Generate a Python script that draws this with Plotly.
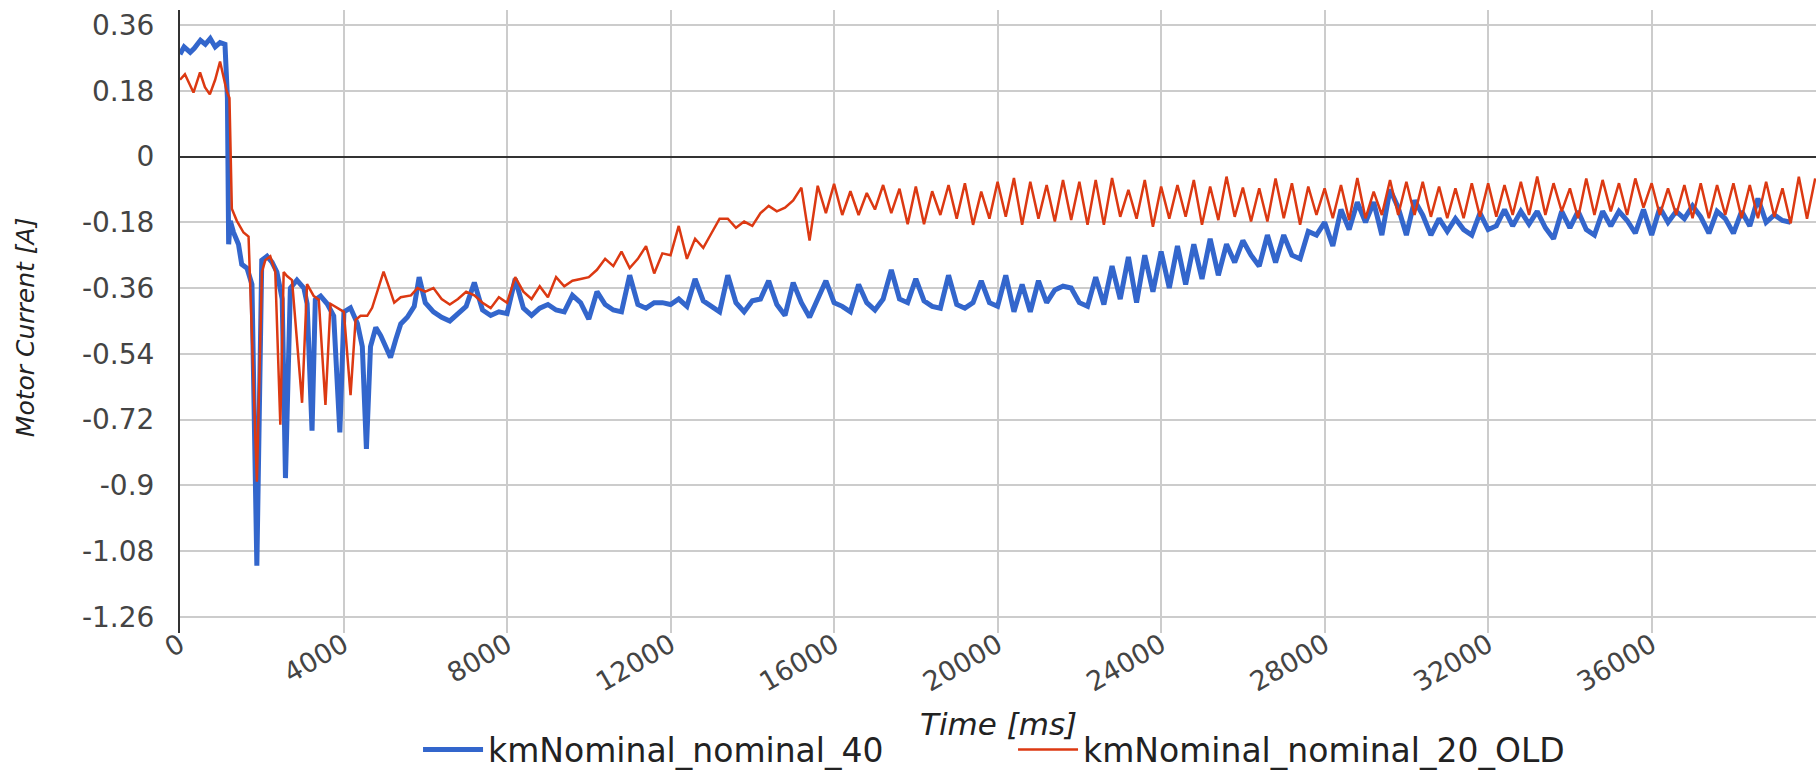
import plotly.graph_objects as go

# ---------------- data ----------------
SERIES_BLUE = "kmNominal_nominal_40"
SERIES_RED = "kmNominal_nominal_20_OLD"

# early part, irregular sampling (ms, A)
BLUE_EARLY_T = [0, 100, 250, 350, 500, 620, 740, 860, 980, 1100, 1160, 1190, 1230, 1310,
                1430, 1510, 1640, 1760, 1880, 2000, 2130, 2250, 2370, 2500, 2580, 2700,
                2860, 3030, 3110, 3230, 3310, 3440, 3600, 3760, 3910, 4010, 4170, 4340,
                4460, 4560, 4660, 4790, 4910, 5030, 5150, 5280, 5400, 5560, 5730, 5850]
BLUE_EARLY_I = [0.28, 0.30, 0.285, 0.296, 0.318, 0.307, 0.323, 0.30, 0.312, 0.307, 0.16, -0.24,
                -0.176, -0.208, -0.24, -0.295, -0.306, -0.35, -1.12, -0.284, -0.273, -0.289,
                -0.316, -0.39, -0.88, -0.36, -0.338, -0.36, -0.403, -0.75, -0.392, -0.382,
                -0.403, -0.436, -0.755, -0.425, -0.414, -0.457, -0.52, -0.80, -0.52, -0.468,
                -0.49, -0.52, -0.55, -0.50, -0.458, -0.44, -0.41, -0.33]

RED_EARLY_T = [0, 120, 330, 490, 610, 730, 860, 980, 1140, 1210, 1268, 1390, 1554, 1677,
               1881, 2004, 2086, 2209, 2331, 2454, 2536, 2618, 2740, 2986, 3108, 3272, 3395,
               3558, 3681, 3845, 4008, 4172, 4295, 4417, 4581, 4700, 4800, 4980, 5120, 5240,
               5400, 5650, 5810]
RED_EARLY_I = [0.21, 0.225, 0.175, 0.23, 0.19, 0.17, 0.21, 0.26, 0.18, 0.16, -0.143, -0.176,
               -0.208, -0.219, -0.89, -0.316, -0.284, -0.273, -0.316, -0.734, -0.316, -0.327,
               -0.338, -0.674, -0.349, -0.382, -0.392, -0.68, -0.403, -0.414, -0.425, -0.653,
               -0.447, -0.436, -0.436, -0.414, -0.38, -0.315, -0.36, -0.40, -0.385, -0.38,
               -0.36]

# later part, logged every 200 ms starting at 6000 ms
LATE_START_MS = 6000
LATE_STEP_MS = 200

BLUE_LATE_I = [
    -0.40, -0.425, -0.44, -0.45, -0.43, -0.41, -0.345, -0.42, -0.435, -0.425,    # 6000
    -0.43, -0.335, -0.415, -0.435, -0.415, -0.405, -0.42, -0.425, -0.38, -0.40,  # 8000
    -0.445, -0.37, -0.405, -0.42, -0.425, -0.325, -0.405, -0.415, -0.40, -0.40,  # 10000
    -0.405, -0.39, -0.41, -0.335, -0.395, -0.41, -0.425, -0.325, -0.40, -0.425,  # 12000
    -0.395, -0.39, -0.34, -0.405, -0.435, -0.345, -0.40, -0.44, -0.39, -0.34,    # 14000
    -0.40, -0.41, -0.425, -0.35, -0.40, -0.42, -0.39, -0.31, -0.39, -0.40,       # 16000
    -0.335, -0.395, -0.41, -0.415, -0.325, -0.405, -0.415, -0.40, -0.34, -0.40,  # 18000
    -0.41, -0.325, -0.425, -0.35, -0.425, -0.34, -0.40, -0.365, -0.355, -0.36,   # 20000
    -0.40, -0.41, -0.33, -0.405, -0.30, -0.39, -0.275, -0.40, -0.27, -0.37,      # 22000
    -0.26, -0.36, -0.245, -0.35, -0.24, -0.335, -0.225, -0.325, -0.24, -0.29,    # 24000
    -0.23, -0.27, -0.30, -0.215, -0.29, -0.215, -0.27, -0.28, -0.205, -0.215,    # 26000
    -0.18, -0.245, -0.145, -0.20, -0.125, -0.18, -0.125, -0.215, -0.09, -0.14,   # 28000
    -0.215, -0.12, -0.16, -0.215, -0.17, -0.205, -0.17, -0.20, -0.215, -0.155,   # 30000
    -0.20, -0.19, -0.145, -0.19, -0.15, -0.185, -0.15, -0.195, -0.225, -0.15,    # 32000
    -0.195, -0.15, -0.20, -0.215, -0.15, -0.19, -0.15, -0.175, -0.21, -0.145,    # 34000
    -0.215, -0.14, -0.18, -0.15, -0.17, -0.135, -0.165, -0.21, -0.15, -0.17,     # 36000
    -0.21, -0.15, -0.19, -0.115, -0.18, -0.16, -0.175, -0.18,                    # 38000
]

RED_LATE_I = [
    -0.37, -0.36, -0.39, -0.405, -0.39, -0.37, -0.38, -0.40, -0.415, -0.385,     # 6000
    -0.40, -0.33, -0.37, -0.39, -0.355, -0.385, -0.33, -0.355, -0.34, -0.335,    # 8000
    -0.33, -0.31, -0.28, -0.30, -0.26, -0.305, -0.28, -0.245, -0.32, -0.265,     # 10000
    -0.27, -0.19, -0.28, -0.225, -0.25, -0.21, -0.17, -0.17, -0.195, -0.178,     # 12000
    -0.19, -0.155, -0.135, -0.15, -0.14, -0.12, -0.085, -0.23, -0.08, -0.155,    # 14000
    -0.075, -0.16, -0.095, -0.16, -0.10, -0.145, -0.078, -0.155, -0.088, -0.185, # 16000
    -0.082, -0.185, -0.095, -0.16, -0.078, -0.17, -0.073, -0.187, -0.096, -0.17, # 18000
    -0.069, -0.165, -0.059, -0.187, -0.069, -0.17, -0.078, -0.178, -0.064, -0.174,  # 20000
    -0.069, -0.187, -0.064, -0.187, -0.059, -0.165, -0.091, -0.17, -0.064, -0.192,  # 22000
    -0.082, -0.17, -0.078, -0.165, -0.064, -0.187, -0.082, -0.174, -0.055, -0.165,  # 24000
    -0.085, -0.178, -0.087, -0.178, -0.06, -0.169, -0.073, -0.187, -0.082, -0.16,   # 26000
    -0.087, -0.169, -0.078, -0.174, -0.059, -0.169, -0.096, -0.16, -0.064, -0.16,   # 28000
    -0.069, -0.16, -0.069, -0.165, -0.082, -0.169, -0.087, -0.169, -0.073, -0.165,  # 30000
    -0.073, -0.165, -0.078, -0.16, -0.069, -0.16, -0.055, -0.16, -0.073, -0.15,     # 32000
    -0.087, -0.169, -0.06, -0.16, -0.064, -0.15, -0.073, -0.16, -0.06, -0.14,       # 34000
    -0.073, -0.16, -0.087, -0.16, -0.078, -0.169, -0.073, -0.169, -0.078, -0.16,    # 36000
    -0.073, -0.169, -0.078, -0.169, -0.069, -0.165, -0.087, -0.183, -0.055, -0.17,  # 38000
    -0.06,                                                                          # 40000
]

X_TICKS = [0, 4000, 8000, 12000, 16000, 20000, 24000, 28000, 32000, 36000]
X_TICK_LABELS = ["0", "4000", "8000", "12000", "16000", "20000", "24000", "28000", "32000", "36000"]
Y_TICKS = [0.36, 0.18, 0, -0.18, -0.36, -0.54, -0.72, -0.9, -1.08, -1.26]
Y_TICK_LABELS = ["0.36", "0.18", "0", "-0.18", "-0.36", "-0.54", "-0.72", "-0.9", "-1.08", "-1.26"]

X_TITLE = "Time [ms]"
Y_TITLE = "Motor Current [A]"

# ---------------- build series ----------------
blue_t = BLUE_EARLY_T + [LATE_START_MS + LATE_STEP_MS * k for k in range(len(BLUE_LATE_I))]
blue_i = BLUE_EARLY_I + BLUE_LATE_I
red_t = RED_EARLY_T + [LATE_START_MS + LATE_STEP_MS * k for k in range(len(RED_LATE_I))]
red_i = RED_EARLY_I + RED_LATE_I

FONT = "DejaVu Sans, Arial, sans-serif"

fig = go.Figure()
fig.add_trace(go.Scatter(x=blue_t, y=blue_i, mode="lines", name=SERIES_BLUE,
                         line=dict(color="#3366CC", width=5)))
fig.add_trace(go.Scatter(x=red_t, y=red_i, mode="lines", name=SERIES_RED,
                         line=dict(color="#DC3912", width=2.5)))

fig.update_layout(
    width=1816, height=776,
    margin=dict(l=180, r=0, t=10, b=143, pad=0),
    paper_bgcolor="white", plot_bgcolor="white",
    font=dict(family=FONT, color="#222222"),
    showlegend=True,
    legend=dict(orientation="h", xref="paper", x=0.1455, xanchor="left",
                yref="container", y=0.034, yanchor="middle",
                font=dict(family=FONT, size=33, color="#222222"),
                traceorder="normal", itemwidth=60,
                entrywidth=520, entrywidthmode="pixels"),
    xaxis=dict(range=[0, 40020], tickmode="array", tickvals=X_TICKS, ticktext=X_TICK_LABELS,
               tickangle=-30, tickfont=dict(family=FONT, size=27, color="#444444"),
               showgrid=True, gridcolor="#cccccc", gridwidth=1.5, zeroline=False,
               showline=False, ticks="", ticklabelstandoff=-10),
    yaxis=dict(range=[-1.304, 0.401], tickmode="array", tickvals=Y_TICKS, ticktext=Y_TICK_LABELS,
               tickfont=dict(family=FONT, size=28, color="#444444"),
               showgrid=True, gridcolor="#cccccc", gridwidth=1.5,
               zeroline=True, zerolinecolor="#333333", zerolinewidth=2,
               showline=True, linecolor="#333333", linewidth=2, ticks="",
               ticklabelstandoff=18),
    annotations=[
        dict(text=X_TITLE, xref="paper", yref="paper", x=0.5, y=-0.146,
             xanchor="center", yanchor="middle", showarrow=False,
             font=dict(family=FONT, size=31, color="#222222", style="italic")),
        dict(text=Y_TITLE, xref="paper", yref="paper", x=-0.0947, y=0.491,
             xanchor="center", yanchor="middle", showarrow=False, textangle=-90,
             font=dict(family=FONT, size=25, color="#222222", style="italic")),
    ],
)

fig.write_html("out.html")
